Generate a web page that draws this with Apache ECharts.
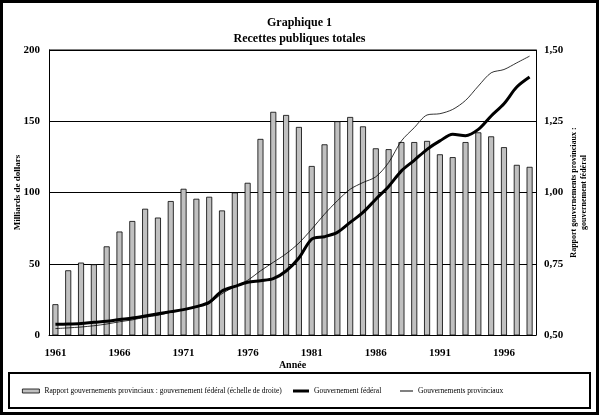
<!DOCTYPE html>
<html>
<head>
<meta charset="utf-8">
<script src="https://cdn.jsdelivr.net/npm/echarts@6/dist/echarts.min.js"></script>
<style>
  html, body { margin: 0; padding: 0; background: #fff; }
  #chart { width: 599px; height: 415px; }
</style>
</head>
<body>
<div id="chart"></div>
<script>
// années 1961-1998
const years = [];
for (let y = 1961; y <= 1998; y++) years.push(String(y));

// milliards de dollars
const federal = [7.5, 7.7, 8.1, 8.9, 9.6, 10.8, 11.9, 13.3, 14.9, 16.4,
  17.8, 19.9, 22.9, 30.9, 34.1, 37.0, 38.1, 39.5, 44.9, 54.0,
  67.3, 69.0, 72.0, 79.0, 86.0, 95.3, 104.2, 115.2, 122.6, 130.3,
  136.2, 140.8, 139.9, 144.3, 153.7, 162.3, 174.0, 181.0];
const provincial = [4.5, 5.0, 5.6, 6.5, 7.7, 9.3, 10.6, 12.5, 13.8, 16.0,
  18.1, 19.5, 22.5, 29.0, 34.0, 38.4, 45.0, 51.0, 57.0, 64.5,
  74.3, 84.8, 94.2, 102.3, 107.0, 111.0, 121.0, 136.2, 145.5, 154.4,
  155.3, 158.3, 164.6, 174.7, 184.0, 186.3, 191.0, 195.7];
// rapport provinces : fédéral (échelle de droite)
const ratio = [0.608, 0.727, 0.754, 0.748, 0.811, 0.863, 0.900, 0.943, 0.912, 0.970,
  1.013, 0.978, 0.985, 0.937, 1.000, 1.034, 1.188, 1.283, 1.272, 1.230,
  1.093, 1.169, 1.250, 1.265, 1.232, 1.155, 1.152, 1.177, 1.177, 1.181,
  1.134, 1.124, 1.177, 1.211, 1.197, 1.159, 1.097, 1.090];

const serif = '"Liberation Serif", "DejaVu Serif", serif';
const legendText = { fontFamily: serif, fontSize: 7.5, color: '#000' };

const chart = echarts.init(document.getElementById('chart'));
chart.setOption({
  animation: false,
  backgroundColor: '#fff',
  textStyle: { fontFamily: serif, color: '#000' },
  title: {
    text: 'Graphique 1',
    subtext: 'Recettes publiques totales',
    left: 'center',
    top: 12,
    itemGap: 4,
    textStyle: { fontFamily: serif, fontSize: 12, fontWeight: 'bold', color: '#000' },
    subtextStyle: { fontFamily: serif, fontSize: 12, fontWeight: 'bold', color: '#000' }
  },
  grid: { left: 49, right: 63, top: 50, bottom: 80 },
  legend: [
    {
      data: [{
        name: 'Rapport gouvernements provinciaux : gouvernement fédéral (échelle de droite)',
        icon: 'rect',
        itemStyle: { color: '#c0c0c0', borderColor: '#000', borderWidth: 0.8 }
      }],
      left: 17, top: 382, itemWidth: 17, itemHeight: 4,
      textStyle: legendText
    },
    {
      data: [{ name: 'Gouvernement fédéral', icon: 'rect' }],
      left: 288, top: 382, itemWidth: 16, itemHeight: 3,
      textStyle: legendText
    },
    {
      data: [{ name: 'Gouvernements provinciaux', icon: 'rect' }],
      left: 395, top: 382, itemWidth: 13, itemHeight: 1,
      textStyle: legendText
    }
  ],
  xAxis: {
    type: 'category',
    data: years,
    name: 'Année',
    nameLocation: 'middle',
    nameGap: 25,
    nameMoveOverlap: false,
    nameTextStyle: { fontFamily: serif, fontSize: 10, fontWeight: 'bold' },
    axisLine: { lineStyle: { color: '#000', width: 1 } },
    axisTick: { show: false },
    axisLabel: { interval: 4, margin: 13, fontFamily: serif, fontSize: 11, fontWeight: 'bold', color: '#000' }
  },
  yAxis: [
    {
      type: 'value', min: 0, max: 200, interval: 50,
      name: 'Milliards de dollars',
      nameLocation: 'middle', nameRotate: 90, nameGap: 27,
      nameMoveOverlap: false,
      nameTextStyle: { fontFamily: serif, fontSize: 9, fontWeight: 'bold' },
      axisLine: { show: true, lineStyle: { color: '#000' } },
      axisTick: { show: false },
      axisLabel: { margin: 9, fontFamily: serif, fontSize: 11, fontWeight: 'bold', color: '#000' },
      splitLine: { lineStyle: { color: '#000', width: 1 } }
    },
    {
      type: 'value', min: 0.5, max: 1.5, interval: 0.25,
      name: 'Rapport gouvernements provinciaux :\ngouvernement fédéral',
      nameLocation: 'middle', nameRotate: 90, nameGap: 33,
      nameMoveOverlap: false,
      nameTextStyle: { fontFamily: serif, fontSize: 8, fontWeight: 'bold', lineHeight: 10 },
      axisLine: { show: true, lineStyle: { color: '#000' } },
      axisTick: { show: false },
      axisLabel: {
        margin: 8, fontFamily: serif, fontSize: 11, fontWeight: 'bold', color: '#000',
        formatter: v => v.toFixed(2).replace('.', ',')
      },
      splitLine: { show: false }
    }
  ],
  series: [
    {
      name: 'Rapport gouvernements provinciaux : gouvernement fédéral (échelle de droite)',
      type: 'bar',
      yAxisIndex: 1,
      data: ratio,
      barWidth: 6,
      itemStyle: { color: '#c0c0c0', borderColor: '#000', borderWidth: 0.8 }
    },
    {
      name: 'Gouvernement fédéral',
      type: 'line',
      data: federal,
      smooth: 0.3,
      symbol: 'none',
      itemStyle: { color: '#000' },
      lineStyle: { color: '#000', width: 3 }
    },
    {
      name: 'Gouvernements provinciaux',
      type: 'line',
      data: provincial,
      smooth: 0.3,
      symbol: 'none',
      itemStyle: { color: '#000' },
      lineStyle: { color: '#000', width: 0.8 }
    }
  ],
  graphic: [
    {
      type: 'rect', silent: true,
      shape: { x: 1.5, y: 1.5, width: 596, height: 412 },
      style: { fill: 'none', stroke: '#000', lineWidth: 3 }
    },
    {
      type: 'rect', silent: true, z: -1,
      shape: { x: 9, y: 373, width: 581, height: 35 },
      style: { fill: '#fff', stroke: '#000', lineWidth: 2 }
    },
    {
      type: 'line', silent: true,
      shape: { x1: 49, y1: 50, x2: 536, y2: 50 },
      style: { stroke: '#000', lineWidth: 1 }
    }
  ]
});
</script>
</body>
</html>
